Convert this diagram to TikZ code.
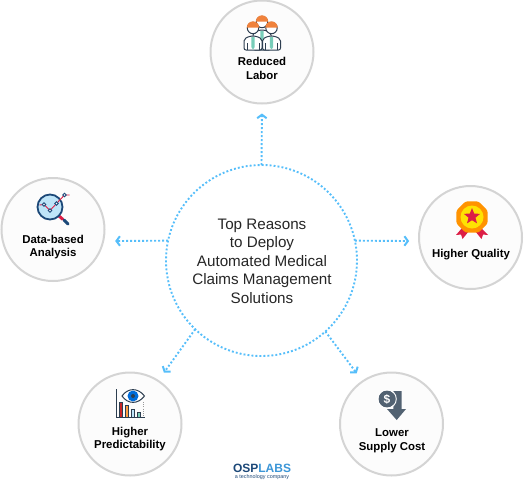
\documentclass[tikz,border=0pt]{standalone}
\usepackage{fontspec}
\setmainfont{Liberation Sans}
\usetikzlibrary{arrows.meta,shapes.geometric}
\definecolor{linkblue}{RGB}{86,190,250}
\definecolor{ringgray}{RGB}{212,212,212}
\definecolor{icondark}{RGB}{45,62,80}
\definecolor{iconorange}{RGB}{240,130,60}
\definecolor{iconteal}{RGB}{120,205,185}
\definecolor{lensblue}{RGB}{190,228,248}
\definecolor{navy}{RGB}{28,72,120}
\definecolor{crimson}{RGB}{220,30,70}
\definecolor{slate}{RGB}{82,98,114}
\definecolor{labsblue}{RGB}{60,150,215}

\begin{document}
\begin{tikzpicture}[
  x=1pt, y=-1pt,
  hub/.style={circle, draw=linkblue, line width=1.9pt, dash pattern=on 1.9pt off 2.1pt,
              minimum size=191pt, inner sep=0pt, outer sep=0pt},
  reason/.style={circle, draw=ringgray, line width=2pt, fill=white!99!black,
                 minimum size=103pt, inner sep=0pt, outer sep=0pt},
  caption/.style={align=center, inner sep=0pt, font=\fontsize{11.4}{13.5}\selectfont\bfseries},
  title/.style={align=center, inner sep=0pt, text=black!85, font=\fontsize{15.2}{18.5}\selectfont},
  link/.style={-{Straight Barb[length=3.5pt,width=9.5pt,line width=2pt]}, draw=linkblue,
               line width=1.9pt, dash pattern=on 1.9pt off 2.1pt},
  ink/.style={draw=icondark, line width=1pt}
]
  \useasboundingbox (0,0) rectangle (524,480);

  \node[hub]    (claims)  at (261.5,260.5) {};
  \node[reason] (labor)   at (262,52)      {};
  \node[reason] (data)    at (53,229.5)    {};
  \node[reason] (quality) at (470.5,237.5) {};
  \node[reason] (predict) at (130,424)     {};
  \node[reason] (supply)  at (391.5,424)   {};

  \node[title] (claimstext) at (262,261) {Top Reasons\\to Deploy\\Automated Medical\\Claims Management\\Solutions};
  \node[caption] (labortext)   at (262,68.5)  {Reduced\\Labor};
  \node[caption] (datatext)    at (53,247)    {Data-based\\Analysis};
  \node[caption] (qualitytext) at (471,254.5) {Higher Quality};
  \node[caption] (predicttext) at (130,439)   {Higher\\Predictability};
  \node[caption] (supplytext)  at (392,441)   {Lower\\Supply Cost};

  \draw[link, shorten >=10pt] (claims.90)  -- (labor.270);
  \draw[link, shorten >=12pt] (claims.168) -- (data.-13);
  \draw[link, shorten >=10pt] (claims.12)  -- (quality.184);
  \draw[link, shorten >=10pt] (claims.226) -- (predict.57);
  \draw[link, shorten >=10pt] (claims.-48) -- (supply.124);

  % people
  \foreach \px/\py in {262/22, 253/28, 271.5/28} {
    \draw[ink, fill=white, rounded corners=2pt] (\px-9,50) -- (\px-9,\py+11) -- (\px-3,\py+8) -- (\px+3,\py+8) -- (\px+9,\py+11) -- (\px+9,50) -- cycle;
    \fill[iconteal] (\px-1.7,\py+9) -- (\px+1.7,\py+9) -- (\px+1.7,47) -- (\px,49.5) -- (\px-1.7,47) -- cycle;
    \draw[ink, fill=white] (\px,\py) circle (5.7);
    \fill[iconorange] (\px-6.2,\py-0.5) arc (180:360:6.2) -- cycle;
    \draw[ink, line width=0.7pt] (\px-6,43) -- (\px-6,50) (\px+6,43) -- (\px+6,50);
  }

  % magnifier
  \draw[line width=3pt, navy, line cap=round] (64,220) -- (68,224);
  \draw[line width=3pt, crimson] (59,216) -- (63,219.5);
  \draw[navy, line width=1.8pt, fill=lensblue] (50,207) circle (12.5);
  \draw[crimson, line width=0.9pt] (39.5,205) -- (44,204.5) -- (50,210.5) -- (56.5,203.5) -- (64.5,195) -- (69.5,195);
  \foreach \cx/\cy in {44/204.5, 50/210.5, 56.5/203.5, 64.5/195} {
    \draw[navy, line width=0.8pt, fill=white] (\cx,\cy) circle (1.7);
  }

  % badge
  \fill[crimson] (462,228) -- (456,235) -- (461,234.5) -- (462.5,239) -- (469,231) -- cycle;
  \fill[crimson] (481,228) -- (488,235) -- (483,234.5) -- (481.5,239) -- (475,231) -- cycle;
  \node[regular polygon, regular polygon sides=8, fill=orange!85!yellow, rounded corners=2.5pt, minimum size=34pt, inner sep=0pt] (badge) at (472,217) {};
  \fill[yellow!85!orange] (472,217) circle (11.5);
  \node[star, star points=5, star point ratio=2.3, fill=crimson, minimum size=17pt, inner sep=0pt] (badgestar) at (472,216.5) {};

  % bars and eye
  \draw[ink] (116.7,389) -- (116.7,417.5) -- (145,417.5);
  \draw[black!40, line width=0.7pt, dash pattern=on 0.8pt off 1.4pt] (143.5,402) -- (143.5,416);
  \draw[ink, fill=red!75!black!85]  (119.5,402) rectangle (122.5,417.5);
  \draw[ink, fill=orange!75]        (125.5,405) rectangle (128.5,417.5);
  \draw[ink, fill=lensblue]         (131.5,409) rectangle (134.5,417.5);
  \draw[ink, fill=iconteal]         (137.5,412.5) rectangle (140.5,417.5);
  \draw[ink, fill=white] (122,396) .. controls (128,387.5) and (138,387.5) .. (144.5,396) .. controls (138,404.5) and (128,404.5) .. (122,396) -- cycle;
  \fill[blue!50!cyan!85!black] (133,396) circle (5.5);
  \fill[icondark] (133,396) circle (2);

  % down arrow and coin
  \fill[slate] (393.3,391) -- (401.7,391) -- (401.7,409) -- (406,409) -- (396.7,420) -- (387,409) -- (393.3,409) -- cycle;
  \fill[slate] (387,399) circle (8.5);
  \draw[white, line width=0.9pt] (387,399) circle (9.3);
  \node[inner sep=0pt, text=white, font=\fontsize{12}{12}\selectfont\bfseries] (coin) at (387,399) {\$};

  % logo
  \node[inner sep=0pt, font=\fontsize{12}{13}\selectfont\bfseries] (logo) at (262,468.5) {\textcolor{navy}{OSP}\textcolor{labsblue}{LABS}};
  \node[inner sep=0pt, text=navy, font=\fontsize{5.4}{6}\selectfont] (logosub) at (262,477) {a technology company};
\end{tikzpicture}
\end{document}
